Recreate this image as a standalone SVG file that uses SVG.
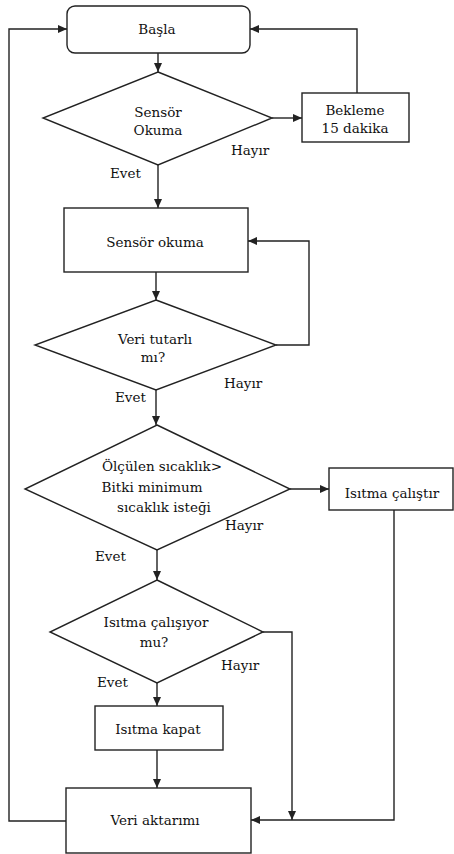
<svg xmlns="http://www.w3.org/2000/svg" width="454" height="854" viewBox="0 0 454 854">
<style>
.n{fill:#fff;stroke:#222;stroke-width:1.4}
.c{fill:none;stroke:#222;stroke-width:1.4}
text{font-family:"DejaVu Serif",serif;font-size:13.5px;fill:#111}
.m{text-anchor:middle}
</style>
<defs>
<marker id="a" markerWidth="9" markerHeight="8" refX="9" refY="4" orient="auto" markerUnits="userSpaceOnUse">
<path d="M0,0 L9,4 L0,8 z" fill="#222"/>
</marker>
</defs>
<rect width="454" height="854" fill="#fff"/>
<g id="connectors">
<path class="c" d="M158,53 V72" marker-end="url(#a)"/>
<path class="c" d="M272,118 H302" marker-end="url(#a)"/>
<path class="c" d="M357,93 V29 H250" marker-end="url(#a)"/>
<path class="c" d="M158,165 V208" marker-end="url(#a)"/>
<path class="c" d="M156,272 V300" marker-end="url(#a)"/>
<path class="c" d="M276,345 H309 V241 H248" marker-end="url(#a)"/>
<path class="c" d="M156,390 V425" marker-end="url(#a)"/>
<path class="c" d="M290,489 H329" marker-end="url(#a)"/>
<path class="c" d="M157,550 V580" marker-end="url(#a)"/>
<path class="c" d="M263,632 H292 V820" marker-end="url(#a)"/>
<path class="c" d="M394,510 V820 H251" marker-end="url(#a)"/>
<path class="c" d="M157,683 V706" marker-end="url(#a)"/>
<path class="c" d="M157,750 V788" marker-end="url(#a)"/>
<path class="c" d="M66,821 H9 V29 H67" marker-end="url(#a)"/>
</g>
<g id="basla">
<rect class="n" x="67" y="6" width="183" height="47" rx="8"/>
<text class="m" x="157" y="34">Başla</text>
</g>
<g id="sensor-okuma-karar">
<path class="n" d="M158,72 L272,118 L158,165 L43,118 Z"/>
<text class="m" x="158" y="117">Sensör</text>
<text class="m" x="158" y="135">Okuma</text>
<text x="231" y="155">Hayır</text>
<text x="110" y="178">Evet</text>
</g>
<g id="bekleme">
<rect class="n" x="302" y="93" width="107" height="49"/>
<text class="m" x="355" y="115">Bekleme</text>
<text class="m" x="355" y="133">15 dakika</text>
</g>
<g id="sensor-okuma">
<rect class="n" x="64" y="208" width="184" height="64"/>
<text class="m" x="155" y="247">Sensör okuma</text>
</g>
<g id="veri-tutarli">
<path class="n" d="M156,300 L276,345 L156,390 L35,345 Z"/>
<text class="m" x="155" y="344">Veri tutarlı</text>
<text class="m" x="153" y="362">mı?</text>
<text x="224" y="388">Hayır</text>
<text x="115" y="402">Evet</text>
</g>
<g id="sicaklik-karar">
<path class="n" d="M157,425 L290,489 L157,550 L25,489 Z"/>
<text class="m" x="162" y="471">Ölçülen sıcaklık&gt;</text>
<text class="m" x="152" y="492">Bitki minimum</text>
<text class="m" x="164" y="512">sıcaklık isteği</text>
<text x="225" y="530">Hayır</text>
<text x="95" y="561">Evet</text>
</g>
<g id="isitma-calistir">
<rect class="n" x="329" y="468" width="124" height="42"/>
<text class="m" x="392" y="498">Isıtma çalıştır</text>
</g>
<g id="isitma-calisiyor">
<path class="n" d="M157,580 L263,632 L157,683 L50,632 Z"/>
<text class="m" x="156" y="627">Isıtma çalışıyor</text>
<text class="m" x="154" y="647">mu?</text>
<text x="221" y="670">Hayır</text>
<text x="97" y="687">Evet</text>
</g>
<g id="isitma-kapat">
<rect class="n" x="95" y="706" width="128" height="44"/>
<text class="m" x="158" y="734">Isıtma kapat</text>
</g>
<g id="veri-aktarimi">
<rect class="n" x="66" y="788" width="185" height="65"/>
<text class="m" x="155" y="825">Veri aktarımı</text>
</g>
</svg>
